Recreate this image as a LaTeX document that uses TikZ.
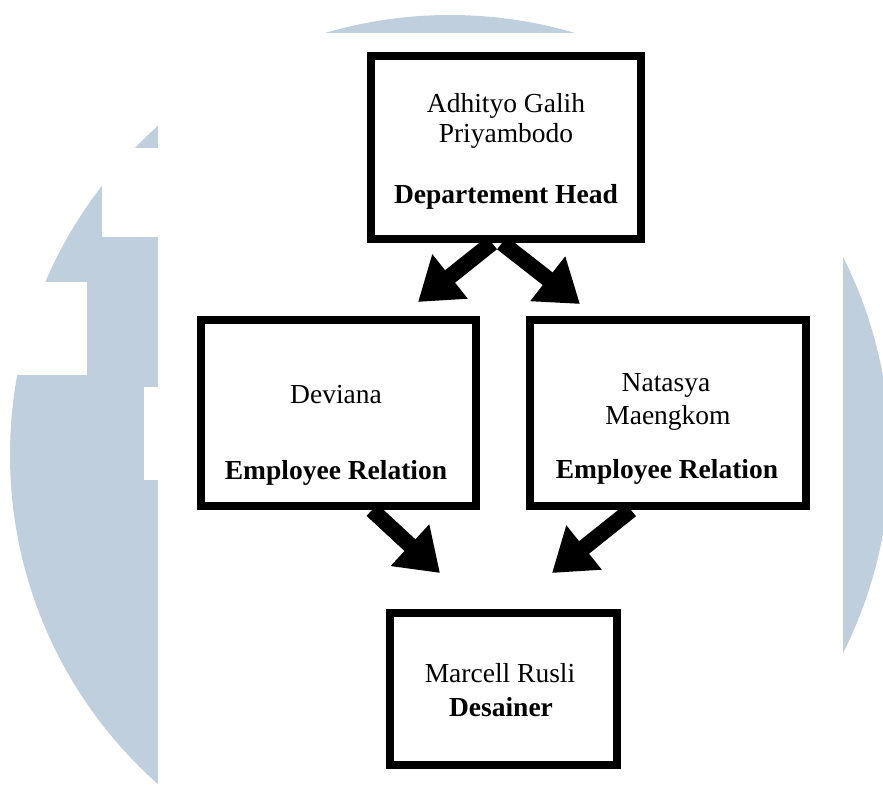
\documentclass[tikz,border=0pt]{standalone}
\usepackage{fontspec}
\setmainfont{Liberation Serif}
\usepackage{tikz}
\usetikzlibrary{arrows.meta}
\definecolor{logo}{HTML}{C0CFDD}
\definecolor{ink}{HTML}{000000}
\tikzset{
  box/.style={draw=ink, fill=white, line width=8pt, inner sep=0pt},
  nm/.style={text=ink, font=\fontsize{27.5}{30}\selectfont, anchor=base, inner sep=0pt},
  role/.style={nm, font=\fontsize{27.5}{30}\selectfont\bfseries},
  bigarrow/.style={draw=ink, line width=16pt, -{Triangle[length=41pt,width=54pt]}}
}

\begin{document}
\begin{tikzpicture}[x=1pt,y=-1pt]
  \useasboundingbox (0,0) rectangle (883,785);
  % watermark behind the chart
  \fill[white] (0,0) rectangle (883,785);
  \begin{scope}
    \clip (0,0) rectangle (883,785);
    \fill[logo] (450,455) circle (440);
  \end{scope}
  \fill[white] (158,33) rectangle (843,786);
  \fill[white] (102,148) rectangle (158,237);
  \fill[white] (0,282) rectangle (87,375);
  \fill[white] (144,387) rectangle (158,480);

  % boxes
  \node[box, minimum width=270, minimum height=183] (head) at (506,147.5) {};
  \node[box, minimum width=275, minimum height=186] (devi) at (338.5,413) {};
  \node[box, minimum width=276, minimum height=186] (nat) at (668,413) {};
  \node[box, minimum width=227, minimum height=152] (marc) at (503.5,689) {};

  \node[nm] (headname1) at (506,112) {Adhityo Galih};
  \node[nm] (headname2) at (506,142) {Priyambodo};
  \node[role] (headrole) at (506,203) {Departement Head};

  \node[nm] (deviname) at (336,403) {Deviana};
  \node[role] (devirole) at (336,479) {Employee Relation};

  \node[nm] (natname1) at (666,391) {Natasya};
  \node[nm] (natname2) at (668,424) {Maengkom};
  \node[role] (natrole) at (667,478) {Employee Relation};

  \node[nm] (marcname) at (500,682) {Marcell Rusli};
  \node[role] (marcrole) at (501,716) {Desainer};

  % arrows
  \coordinate (devitip) at (418,302);
  \coordinate (nattip) at (580,304);
  \coordinate (marctipL) at (440,573);
  \coordinate (marctipR) at (552,573);
  \draw[bigarrow] ([xshift=-14]head.south) -- (devitip);
  \draw[bigarrow] ([xshift=-4]head.south) -- (nattip);
  \draw[bigarrow] ([xshift=33.5]devi.south) -- (marctipL);
  \draw[bigarrow] ([xshift=-37]nat.south) -- (marctipR);
\end{tikzpicture}
\end{document}
